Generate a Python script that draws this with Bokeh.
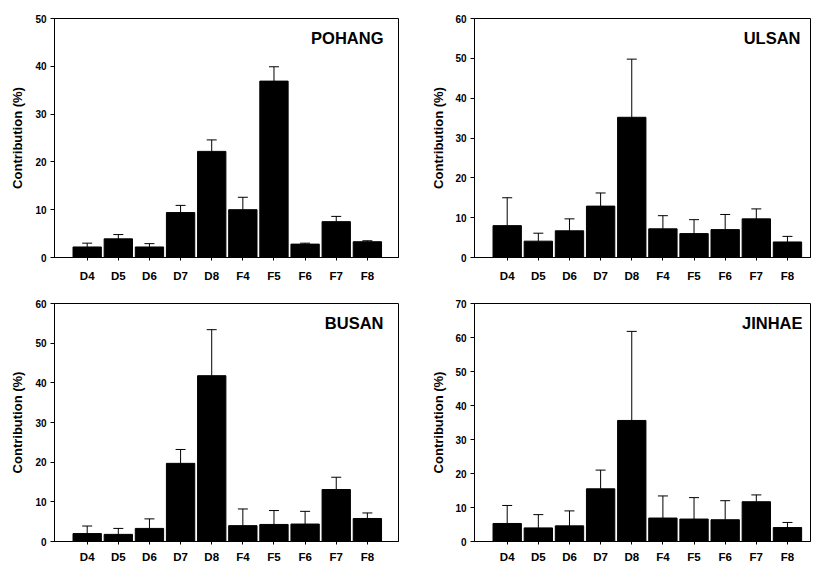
from bokeh.plotting import figure
from bokeh.layouts import column, row
from bokeh.models import ColumnDataSource, Range1d, FixedTicker, Whisker, TeeHead, Label
from bokeh.embed import file_html
from bokeh.resources import INLINE

categories = ["D4", "D5", "D6", "D7", "D8", "F4", "F5", "F6", "F7", "F8"]

pohang = [2.2, 3.9, 2.2, 9.4, 22.2, 10.0, 36.9, 2.8, 7.5, 3.3]
pohang_err = [0.8, 0.9, 0.7, 1.5, 2.4, 2.6, 3.0, 0.2, 1.1, 0.2]

ulsan = [8.0, 4.1, 6.7, 12.9, 35.2, 7.2, 6.0, 7.0, 9.7, 3.9]
ulsan_err = [7.0, 2.0, 3.0, 3.3, 14.6, 3.3, 3.5, 3.8, 2.5, 1.4]

busan = [2.0, 1.8, 3.3, 19.7, 41.8, 4.0, 4.3, 4.4, 13.1, 5.8]
busan_err = [1.9, 1.5, 2.4, 3.5, 11.6, 4.2, 3.5, 3.2, 3.1, 1.4]

jinhae = [5.3, 4.0, 4.6, 15.5, 35.6, 6.9, 6.6, 6.4, 11.7, 4.1]
jinhae_err = [5.3, 3.9, 4.4, 5.5, 26.2, 6.5, 6.3, 5.6, 2.0, 1.5]

FONT = "Liberation Sans"


def panel(name, vals, errs, ymax, width, height, bl, br, bt, bb, xend, standoff,
          lab_standoff, title_dx):
    xs = list(range(len(categories)))
    src = ColumnDataSource(dict(
        x=xs, top=vals, upper=[v + e for v, e in zip(vals, errs)]))
    p = figure(width=width, height=height, output_backend="svg", toolbar_location=None,
               x_range=Range1d(-1.05, xend), y_range=Range1d(0, ymax),
               min_border_left=bl, min_border_right=br, min_border_top=bt, min_border_bottom=bb)
    p.vbar(x="x", top="top", width=0.91, source=src, fill_color="black", line_color="black")
    p.add_layout(Whisker(source=src, base="x", upper="upper", lower="top", dimension="height",
                         upper_head=TeeHead(size=10, line_color="black", line_width=1),
                         lower_head=None, line_color="black", line_width=1, level="overlay"))
    p.xgrid.visible = False
    p.ygrid.visible = False
    p.outline_line_color = "black"
    p.outline_line_width = 1
    p.background_fill_color = "white"
    p.border_fill_color = "white"

    xa = p.xaxis[0]
    xa.ticker = FixedTicker(ticks=xs)
    xa.major_label_overrides = {i: c for i, c in enumerate(categories)}
    xa.minor_tick_line_color = None
    xa.major_tick_in = 0
    xa.major_tick_out = 3
    xa.major_label_standoff = standoff
    xa.major_label_text_font = FONT
    xa.major_label_text_font_style = "bold"
    xa.major_label_text_font_size = "11.5px"
    xa.major_label_text_color = "black"
    xa.axis_line_color = "black"
    xa.major_tick_line_color = "black"

    ya = p.yaxis[0]
    ya.ticker = FixedTicker(ticks=list(range(0, ymax + 1, 10)))
    ya.minor_tick_line_color = None
    ya.major_tick_in = 0
    ya.major_tick_out = 4
    ya.major_label_standoff = 4
    ya.major_label_text_font = FONT
    ya.major_label_text_font_style = "bold"
    ya.major_label_text_font_size = "10px"
    ya.major_label_text_color = "black"
    ya.axis_label = "Contribution (%)"
    ya.axis_label_text_font = FONT
    ya.axis_label_text_font_style = "bold"
    ya.axis_label_text_font_size = "13px"
    ya.axis_label_text_color = "black"
    ya.axis_label_standoff = lab_standoff
    ya.axis_line_color = "black"
    ya.major_tick_line_color = "black"

    p.add_layout(Label(x=xend, y=ymax, x_offset=title_dx, y_offset=-10, text=name,
                       text_align="right", text_baseline="top", text_font=FONT,
                       text_font_style="bold", text_font_size="16.5px", text_color="black"))
    return p


p1 = panel("POHANG", pohang, pohang_err, 50, 425, 284, 54, 27, 18, 25, 10.0, 9, 7, -15)
p2 = panel("ULSAN", ulsan, ulsan_err, 60, 387, 284, 49, 2, 18, 25, 9.74, 9, 6, -10)
p3 = panel("BUSAN", busan, busan_err, 60, 425, 281, 54, 27, 19, 23, 10.0, 6, 7, -15)
p4 = panel("JINHAE", jinhae, jinhae_err, 70, 387, 281, 49, 2, 19, 23, 9.74, 6, 6, -8)

layout = column(row(p1, p2), row(p3, p4))

open("out.html", "w").write(file_html(layout, INLINE))
